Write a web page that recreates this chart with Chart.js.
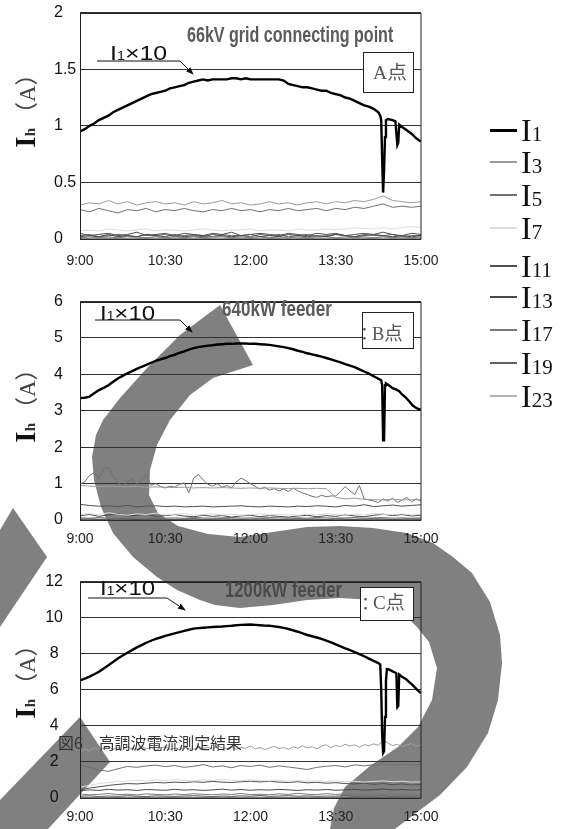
<!DOCTYPE html>
<html><head><meta charset="utf-8">
<script src="https://cdn.jsdelivr.net/npm/chart.js@4.4.1/dist/chart.umd.min.js"></script>
<style>
html,body{margin:0;padding:0;background:#fff;}
body{width:569px;height:829px;position:relative;overflow:hidden;}
canvas{position:absolute;left:0;z-index:1;}
svg{position:absolute;left:0;top:0;}
.t{position:absolute;white-space:nowrap;transform-origin:0 50%;z-index:3;}
.box{position:absolute;background:#fff;border:1px solid #222;box-sizing:border-box;z-index:2;}
.leg{position:absolute;z-index:3;}
.ytitle{position:absolute;white-space:nowrap;transform:translate(-50%,-50%) rotate(-90deg);z-index:3;line-height:32px;}
</style>
</head><body>
<svg width="569" height="829" style="z-index:0">
  <path fill="#808080" d="M220,305 L253,365 L213,378 L190,395 L170,420 L157,445 L150,470 L149,495 L158,513 L178,526 L208,534 L240,537 L273,532 L307,527 L340,526 L373,528 L407,533 L433,543 L453,557 L472,573 L490,602 L500,635 L502,663 L498,700 L488,733 L467,767 L440,795 L412,816 L395,829 L330,829 L334,808 L345,787 L370,766 L398,747 L418,727 L432,700 L437,668 L429,642 L417,627 L405,615 L390,606 L373,600 L340,598 L307,600 L273,605 L240,608 L215,605 L200,600 L177,590 L157,577 L133,557 L113,533 L101,507 L94,480 L92,457 L96,435 L103,420 L120,398 L147,368 L180,335 Z"/>
  <path fill="#808080" d="M0,530 L13,508 L47,557 L0,627 Z"/>
  <path fill="#808080" d="M80,717 L110,762 L48,829 L0,829 L0,800 Z"/>
</svg>
<canvas id="cA" width="460" height="280" style="top:0px"></canvas>
<canvas id="cB" width="460" height="280" style="top:275px"></canvas>
<canvas id="cC" width="460" height="274" style="top:555px"></canvas>
<svg width="569" height="829" style="z-index:2">
  <defs><marker id="ah" markerWidth="8" markerHeight="6" refX="7" refY="3" orient="auto" markerUnits="userSpaceOnUse"><path d="M0,0 L8,3 L0,6 z" fill="#111"/></marker></defs>
  <polyline points="97,61 180,61 193,74" fill="none" stroke="#111" stroke-width="1" marker-end="url(#ah)"/>
  <polyline points="95,320 180,320 192,332" fill="none" stroke="#111" stroke-width="1" marker-end="url(#ah)"/>
  <polyline points="88,598 167,598 185,610" fill="none" stroke="#111" stroke-width="1" marker-end="url(#ah)"/>
</svg>
<div class="box" style="left:363px;top:52px;width:51px;height:41px"></div>
<div class="box" style="left:362px;top:312px;width:52px;height:37px"></div>
<div class="box" style="left:360px;top:587px;width:54px;height:34px"></div>
<script>
// ---------- categories / ticks ----------
const xTickLabels = ['9:00','10:30','12:00','13:30','15:00'];
const xTickValues = [0,90,180,270,360]; // minutes after 9:00
const yTicksA = [0,0.5,1,1.5,2];
const yLabelsA = ['0','0.5','1','1.5','2'];
const yTicksB = [0,1,2,3,4,5,6];
const yLabelsB = ['0','1','2','3','4','5','6'];
const yTicksC = [0,2,4,6,8,10,12];
const yLabelsC = ['0','2','4','6','8','10','12'];
const seriesNames = ['I1','I3','I5','I7','I11','I13','I17','I19','I23'];
const seriesColors = ['#000000','#9c9c9c','#707070','#dcdcdc','#505050','#4a4a4a','#7a7a7a','#606060','#b2b2b2'];

const times10 = [0,10,20,30,40,50,60,70,80,90,100,110,120,130,140,150,160,170,180,190,200,210,220,230,240,250,260,270,280,290,300,310,320,330,340,350,360];
const times5 = [0,5,10,15,20,25,30,35,40,45,50,55,60,65,70,75,80,85,90,95,100,105,110,115,120,125,130,135,140,145,150,155,160,165,170,175,180,185,190,195,200,205,210,215,220,225,230,235,240,245,250,255,260,265,270,275,280,285,290,295,300,305,310,315,320,325,330,335,340,345,350,355,360];

// ---------- Panel A : 66kV grid connecting point ----------
const A_I1 = [0.95,0.97,1.00,1.02,1.05,1.07,1.09,1.12,1.14,1.16,
1.18,1.20,1.22,1.24,1.26,1.28,1.29,1.30,1.31,1.33,
1.34,1.35,1.36,1.38,1.39,1.40,1.41,1.40,1.41,1.41,
1.41,1.41,1.42,1.42,1.41,1.42,1.41,1.41,1.41,1.41,
1.41,1.41,1.41,1.40,1.37,1.36,1.35,1.34,1.34,1.33,
1.32,1.31,1.31,1.29,1.28,1.27,1.25,1.24,1.22,1.20,
1.18,1.17,1.15,1.12];
const A_I1_tailT = [317,318,319,320,321,322,323,325,330,333,335,336,337,340,345,350,355,360];
const A_I1_tailV = [1.09,1.05,0.70,0.41,0.60,0.90,1.05,1.06,1.05,1.04,0.83,0.85,1.01,0.99,0.96,0.93,0.89,0.86];
const A_I3 = [0.30,0.32,0.31,0.34,0.31,0.33,0.30,0.32,0.33,0.31,0.32,0.30,0.33,0.31,0.32,0.34,0.31,0.32,0.30,0.31,0.33,0.31,0.32,0.30,0.32,0.33,0.31,0.33,0.32,0.34,0.33,0.35,0.38,0.34,0.33,0.32,0.33];
const A_I5 = [0.26,0.24,0.27,0.25,0.23,0.26,0.25,0.27,0.24,0.26,0.25,0.27,0.25,0.24,0.26,0.25,0.27,0.25,0.26,0.24,0.26,0.25,0.27,0.25,0.26,0.27,0.25,0.27,0.26,0.28,0.27,0.29,0.31,0.28,0.29,0.28,0.29];
const A_I7 = [0.07,0.08,0.07,0.09,0.08,0.07,0.08,0.09,0.07,0.08,0.08,0.07,0.08,0.09,0.08,0.07,0.08,0.08,0.09,0.07,0.08,0.08,0.07,0.09,0.08,0.08,0.09,0.08,0.09,0.10,0.09,0.09,0.10,0.09,0.10,0.11,0.10];
const A_I11 = [0.05,0.03,0.04,0.05,0.03,0.04,0.06,0.03,0.04,0.05,0.03,0.05,0.04,0.03,0.05,0.04,0.06,0.03,0.04,0.05,0.04,0.03,0.05,0.04,0.03,0.05,0.04,0.05,0.03,0.04,0.05,0.04,0.06,0.04,0.03,0.05,0.04];
const A_I13 = [0.02,0.03,0.02,0.04,0.02,0.03,0.02,0.04,0.03,0.02,0.04,0.02,0.03,0.02,0.04,0.03,0.02,0.03,0.04,0.02,0.03,0.02,0.04,0.03,0.02,0.03,0.02,0.04,0.03,0.02,0.03,0.04,0.03,0.02,0.03,0.02,0.03];
const A_I17 = [0.01,0.02,0.01,0.02,0.01,0.02,0.02,0.01,0.02,0.01,0.02,0.01,0.02,0.01,0.02,0.02,0.01,0.02,0.01,0.02,0.01,0.02,0.01,0.02,0.01,0.02,0.02,0.01,0.02,0.01,0.02,0.01,0.02,0.01,0.02,0.01,0.02];
const A_I19 = [0.03,0.04,0.02,0.03,0.04,0.03,0.02,0.04,0.03,0.04,0.02,0.03,0.04,0.03,0.02,0.04,0.03,0.03,0.02,0.04,0.03,0.04,0.02,0.03,0.04,0.02,0.03,0.04,0.03,0.02,0.04,0.03,0.03,0.04,0.02,0.03,0.03];
const A_I23 = [0.01,0.01,0.02,0.01,0.01,0.02,0.01,0.01,0.02,0.01,0.01,0.01,0.02,0.01,0.01,0.02,0.01,0.01,0.01,0.02,0.01,0.01,0.02,0.01,0.01,0.01,0.02,0.01,0.01,0.02,0.01,0.01,0.02,0.01,0.01,0.01,0.01];

// ---------- Panel B : 640kW feeder ----------
const B_I1 = [3.35,3.36,3.39,3.48,3.57,3.63,3.70,3.80,3.89,3.96,
4.03,4.09,4.15,4.21,4.26,4.32,4.37,4.41,4.45,4.50,
4.54,4.59,4.63,4.68,4.72,4.75,4.77,4.79,4.80,4.82,
4.83,4.84,4.84,4.85,4.85,4.85,4.84,4.84,4.83,4.82,
4.81,4.79,4.77,4.75,4.72,4.69,4.65,4.62,4.58,4.55,
4.52,4.49,4.45,4.41,4.37,4.33,4.28,4.24,4.20,4.14,
4.08,4.02,3.95,3.88];
const B_I1_tailT = [318,319,320,321,322,323,326,330,334,337,340,344,348,351,355,357,360];
const B_I1_tailV = [3.84,3.70,2.19,2.19,3.70,3.75,3.70,3.62,3.58,3.54,3.45,3.36,3.25,3.15,3.08,3.05,3.03];
const B_I3 = [0.95,0.93,0.92,0.93,0.92,0.91,0.92,0.90,0.91,0.90,0.89,0.90,0.88,0.89,0.88,0.89,0.88,0.87,0.88,0.87,0.88,0.87,0.86,0.87,0.86,0.87,0.86,0.62,0.58,0.60,0.57,0.56,0.55,0.57,0.55,0.56,0.55];
const B_I5 = [0.98,1.05,1.22,1.30,1.15,1.40,1.45,1.20,1.02,0.95,
1.05,1.12,0.98,1.10,1.25,0.95,1.00,0.92,0.88,0.93,
0.90,0.98,1.02,0.75,1.15,1.25,1.10,0.98,0.93,1.00,
0.90,0.95,0.88,1.05,1.15,1.08,1.00,0.92,0.85,0.90,
0.82,0.86,0.80,0.85,0.78,0.88,0.80,0.74,0.70,0.65,
0.62,0.68,0.64,0.66,0.66,0.78,0.92,0.80,0.70,0.95,
0.58,0.55,0.52,0.48,0.58,0.52,0.60,0.48,0.55,0.62,
0.50,0.58,0.52];
const B_I7 = [0.15,0.18,0.14,0.20,0.16,0.13,0.17,0.15,0.19,0.14,0.16,0.18,0.13,0.15,0.17,0.14,0.16,0.13,0.15,0.17,0.14,0.16,0.15,0.13,0.16,0.14,0.17,0.15,0.13,0.16,0.14,0.18,0.16,0.15,0.17,0.14,0.16];
const B_I11 = [0.43,0.40,0.38,0.39,0.37,0.40,0.36,0.38,0.39,0.37,0.38,0.36,0.37,0.38,0.36,0.37,0.38,0.39,0.37,0.36,0.38,0.37,0.36,0.38,0.37,0.39,0.38,0.36,0.40,0.38,0.42,0.37,0.39,0.41,0.38,0.40,0.42];
const B_I13 = [0.12,0.15,0.10,0.14,0.18,0.11,0.13,0.16,0.10,0.12,0.15,0.11,0.09,0.13,0.10,0.12,0.08,0.11,0.13,0.09,0.12,0.10,0.08,0.11,0.13,0.09,0.12,0.10,0.14,0.11,0.09,0.13,0.16,0.12,0.15,0.11,0.13];
const B_I17 = [0.06,0.05,0.07,0.05,0.06,0.08,0.05,0.06,0.07,0.05,0.06,0.05,0.07,0.06,0.05,0.06,0.07,0.05,0.06,0.05,0.07,0.06,0.05,0.06,0.05,0.07,0.06,0.05,0.06,0.07,0.05,0.06,0.07,0.05,0.06,0.05,0.06];
const B_I19 = [0.03,0.04,0.02,0.03,0.04,0.03,0.02,0.03,0.04,0.03,0.02,0.03,0.04,0.02,0.03,0.04,0.03,0.02,0.03,0.04,0.03,0.02,0.03,0.04,0.03,0.03,0.02,0.04,0.03,0.02,0.03,0.04,0.03,0.02,0.03,0.04,0.03];
const B_I23 = [0.02,0.01,0.02,0.02,0.01,0.02,0.01,0.02,0.02,0.01,0.02,0.01,0.02,0.02,0.01,0.02,0.01,0.02,0.01,0.02,0.02,0.01,0.02,0.01,0.02,0.02,0.01,0.02,0.01,0.02,0.02,0.01,0.02,0.01,0.02,0.01,0.02];

// ---------- Panel C : 1200kW feeder ----------
const C_I1 = [6.52,6.62,6.73,6.86,7.00,7.18,7.36,7.55,7.74,7.90,
8.05,8.20,8.35,8.48,8.61,8.72,8.82,8.90,8.99,9.06,
9.13,9.20,9.27,9.33,9.39,9.42,9.44,9.46,9.48,9.50,
9.51,9.53,9.55,9.58,9.60,9.61,9.62,9.60,9.58,9.56,
9.55,9.52,9.48,9.43,9.37,9.30,9.22,9.13,9.04,8.97,
8.90,8.82,8.73,8.63,8.52,8.41,8.30,8.20,8.09,7.98,
7.86,7.73,7.60,7.48];
const C_I1_tailT = [317,318,319,320,321,322,323,324,326,330,333,334,335,336,337,340,344,347,351,355,358,360];
const C_I1_tailV = [7.40,6.00,3.50,2.50,2.60,4.50,6.50,7.15,7.13,7.02,6.95,6.90,5.04,5.10,6.85,6.72,6.60,6.45,6.27,6.05,5.90,5.82];
const C_I3 = [2.55,2.70,2.62,2.80,2.68,2.75,2.85,2.70,2.78,2.66,
2.82,2.74,2.70,2.88,2.72,2.80,2.65,2.78,2.84,2.70,
2.76,2.68,2.82,2.74,2.70,2.86,2.76,2.80,2.72,2.90,
2.78,2.74,2.84,2.70,2.80,2.76,2.88,2.72,2.80,2.68,
2.78,2.86,2.74,2.80,2.70,2.84,2.76,2.90,2.78,2.85,
2.72,2.88,2.95,2.80,2.92,2.85,2.98,2.88,2.94,2.82,
2.96,2.90,3.00,2.92,3.20,3.05,2.90,2.98,2.86,2.94,
3.02,2.88,2.95];
const C_I5 = [1.80,1.72,1.55,1.48,1.62,1.75,1.70,1.78,1.82,1.74,1.80,1.70,1.76,1.85,1.72,1.78,1.68,1.80,1.75,1.82,1.70,1.78,1.72,1.65,1.58,1.70,1.76,1.80,1.72,1.84,1.78,1.85,1.90,1.82,1.88,1.84,1.86];
const C_I7 = [0.60,0.70,0.80,0.85,0.92,0.95,0.98,0.94,1.00,0.96,1.02,0.98,0.95,1.00,0.97,1.03,0.99,0.96,1.01,0.97,0.95,0.99,0.94,0.97,0.93,0.96,0.92,0.95,0.90,0.93,0.88,0.92,0.95,0.90,0.93,0.88,0.90];
const C_I11 = [0.45,0.55,0.62,0.70,0.75,0.80,0.78,0.82,0.86,0.84,0.88,0.85,0.90,0.87,0.92,0.88,0.86,0.90,0.93,0.89,0.92,0.88,0.86,0.90,0.84,0.87,0.82,0.85,0.80,0.78,0.82,0.76,0.80,0.74,0.78,0.72,0.75];
const C_I13 = [0.40,0.45,0.42,0.48,0.44,0.46,0.42,0.47,0.45,0.43,0.48,0.44,0.46,0.42,0.45,0.49,0.44,0.47,0.43,0.46,0.44,0.48,0.45,0.42,0.46,0.44,0.47,0.43,0.45,0.48,0.44,0.46,0.50,0.45,0.47,0.44,0.46];
const C_I17 = [0.22,0.18,0.20,0.25,0.19,0.21,0.17,0.23,0.20,0.18,0.22,0.19,0.24,0.20,0.18,0.22,0.20,0.25,0.19,0.21,0.18,0.23,0.20,0.26,0.21,0.19,0.24,0.20,0.22,0.18,0.21,0.25,0.20,0.23,0.19,0.22,0.20];
const C_I19 = [0.10,0.12,0.08,0.11,0.09,0.13,0.10,0.08,0.12,0.10,0.09,0.11,0.13,0.10,0.08,0.11,0.09,0.12,0.10,0.14,0.09,0.11,0.13,0.10,0.12,0.09,0.11,0.10,0.13,0.09,0.11,0.10,0.12,0.09,0.11,0.10,0.12];
const C_I23 = [0.05,0.04,0.06,0.05,0.04,0.05,0.06,0.04,0.05,0.05,0.04,0.06,0.05,0.04,0.05,0.06,0.05,0.04,0.05,0.06,0.04,0.05,0.05,0.04,0.06,0.05,0.04,0.05,0.06,0.05,0.04,0.05,0.06,0.04,0.05,0.05,0.04];

// ---------- build ----------
Chart.defaults.font.family = "'Liberation Sans', Arial, sans-serif";
function pts(times, vals){ return vals.map((v,i)=>({x:times[i], y:v})); }
function timesFor(vals){ return vals.length === times5.length ? times5 : times10; }
function i1pts(main, tailT, tailV){ return pts(times5, main).concat(pts(tailT, tailV)); }

const framePlugin = {
  id:'frame',
  afterDatasetsDraw(chart){
    const a = chart.chartArea, c = chart.ctx;
    c.save(); c.strokeStyle='#222'; c.lineWidth=1;
    c.strokeRect(Math.round(a.left)+0.5, Math.round(a.top)+0.5, Math.round(a.right-a.left)-0.5, Math.round(a.bottom-a.top)-0.5);
    c.restore();
  }
};

function makePanel(id, p){
  const datasets = [{label:'I1', data:i1pts(p.i1, p.tailT, p.tailV), borderColor:seriesColors[0], borderWidth:2.4}];
  p.harm.forEach((vals, k)=>{
    datasets.push({label:seriesNames[k+1], data:pts(timesFor(vals), vals), borderColor:seriesColors[k+1], borderWidth:1});
  });
  new Chart(document.getElementById(id), {
    type:'line',
    data:{datasets},
    plugins:[framePlugin],
    options:{
      responsive:false, animation:false, devicePixelRatio:1,
      layout:{padding:{left:p.padLeft, right:39, top:p.top, bottom:0}},
      plugins:{legend:{display:false}, tooltip:{enabled:false}},
      elements:{point:{radius:0}, line:{tension:0, borderJoinStyle:'miter'}},
      scales:{
        x:{type:'linear', min:0, max:360,
          afterBuildTicks:s=>{ s.ticks = xTickValues.map(v=>({value:v})); },
          ticks:{callback:(v,i)=>xTickLabels[i], font:{size:14}, color:'#222', padding:p.xPad, maxRotation:0, autoSkip:false},
          grid:{display:false, drawTicks:false}, border:{display:false},
          afterFit:s=>{ s.height = p.xH; }},
        y:{min:0, max:p.yTicks[p.yTicks.length-1],
          afterBuildTicks:s=>{ s.ticks = p.yTicks.map(v=>({value:v})); },
          ticks:{callback:(v,i)=>p.yLabels[i], font:{size:16}, color:'#111', crossAlign:p.cross, padding:p.yPad},
          grid:{color:'#333', lineWidth:1, drawTicks:false}, border:{display:false},
          afterFit:s=>{ s.width = 80 - p.padLeft; }}
      }
    }
  });
}

makePanel('cA', {i1:A_I1, tailT:A_I1_tailT, tailV:A_I1_tailV,
  harm:[A_I3,A_I5,A_I7,A_I11,A_I13,A_I17,A_I19,A_I23],
  yTicks:yTicksA, yLabels:yLabelsA, top:11, xH:41, xPad:14, padLeft:54, cross:'far', yPad:3});
makePanel('cB', {i1:B_I1, tailT:B_I1_tailT, tailV:B_I1_tailV,
  harm:[B_I3,B_I5,B_I7,B_I11,B_I13,B_I17,B_I19,B_I23],
  yTicks:yTicksB, yLabels:yLabelsB, top:13, xH:35, xPad:11, padLeft:0, cross:'center', yPad:17});
makePanel('cC', {i1:C_I1, tailT:C_I1_tailT, tailV:C_I1_tailV,
  harm:[C_I3,C_I5,C_I7,C_I11,C_I13,C_I17,C_I19,C_I23],
  yTicks:yTicksC, yLabels:yLabelsC, top:13, xH:31, xPad:11, padLeft:0, cross:'center', yPad:17});

// ---------- texts ----------
function addText(html, left, cy, font, color, width, lh){
  lh = lh || 26;
  const d = document.createElement('div');
  d.className = 't';
  d.innerHTML = html;
  d.style.left = left+'px';
  d.style.top = (cy - lh/2)+'px';
  d.style.height = lh+'px';
  d.style.font = font;
  d.style.lineHeight = lh+'px';
  d.style.color = color;
  document.body.appendChild(d);
  if (width){ const w = d.offsetWidth; d.style.transform = 'scaleX('+(width/w)+')'; }
  return d;
}
const SANS = "'Liberation Sans', Arial, sans-serif";
const CJK = "'Noto Sans CJK JP', sans-serif";
const SERIF = "'Liberation Serif', 'Noto Sans CJK JP', serif";

addText('66kV grid connecting point', 187, 34.5, 'bold 22px '+SANS, '#5a5a5a', 206);
addText('640kW feeder', 222, 308.5, 'bold 22px '+SANS, '#5a5a5a', 110);
addText('1200kW feeder', 225, 590, 'bold 22px '+SANS, '#4a4a4a', 117);
const i1x10 = 'I<span style="font-size:12px">1</span>×10';
addText(i1x10, 110, 52.5, '21px '+SANS, '#111', 57);
addText(i1x10, 100, 312.5, '21px '+SANS, '#111', 55);
addText(i1x10, 100, 588, '21px '+SANS, '#111', 55);
addText('A点', 373, 72.5, '19px '+SERIF, '#555', 34);
addText('：', 356, 333, '17px '+CJK, '#555');
addText('B点', 372, 334, '19px '+SERIF, '#555', 31);
addText('：', 357, 603, '17px '+CJK, '#555');
addText('C点', 373, 603, '19px '+SERIF, '#555', 32);
addText('図6　高調波電流測定結果', 58, 742, '16px '+CJK, '#333', 184);

// y axis titles
[[27,105],[27,400],[27,676]].forEach(([cx,cy])=>{
  const d = document.createElement('div');
  d.className = 'ytitle';
  d.style.left = cx+'px'; d.style.top = cy+'px';
  d.innerHTML = '<span style="font:bold 29px \'Liberation Serif\',serif;color:#111">I</span><span style="font:bold 15px \'Liberation Serif\',serif;color:#333;margin-right:3px">h</span><span style="font:23px \'Liberation Serif\',\'Noto Sans CJK JP\',serif;color:#444">（A）</span>';
  document.body.appendChild(d);
});

// legend
const legendY = [130,162,195,228,266,297,330,363,396];
seriesNames.forEach((n,i)=>{
  const lw = i===0 ? 3 : 2;
  const ln = document.createElement('div');
  ln.className = 'leg';
  ln.style.left='490px'; ln.style.width='27px'; ln.style.top=(legendY[i]-lw/2)+'px'; ln.style.height=lw+'px';
  ln.style.background = seriesColors[i];
  document.body.appendChild(ln);
  addText('I<span style="font-size:21px">'+n.slice(1)+'</span>', 521, legendY[i], '32px '+"'Liberation Serif', serif", '#111', null, 36);
});
</script>
</body></html>
